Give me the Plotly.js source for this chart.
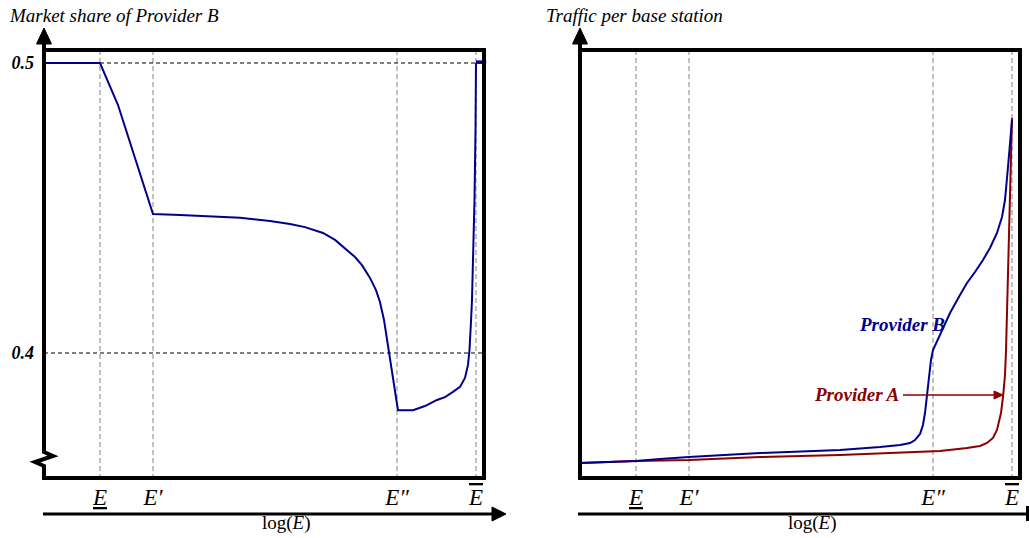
<!DOCTYPE html>
<html>
<head>
<meta charset="utf-8">
<script src="https://cdn.plot.ly/plotly-3.0.1.min.js"></script>
<style>html,body{margin:0;padding:0;background:#fff;}#chart{width:1029px;height:538px;}</style>
</head>
<body>
<div id="chart"></div>
<script>
// ---- Data (x = log(E), arbitrary units) ----
const markerX = [1.273, 2.477, 8.023, 9.818];
const markerLabels = ['<u>E</u>', 'E\u2032', 'E\u2033', '<span style="text-decoration:overline">E</span>'];

// Left panel: market share of Provider B
const shareX = [0, 1.273, 1.682, 2.477, 3.091, 3.773, 4.455, 5.136, 5.591, 5.932, 6.341, 6.614, 6.841, 7.068, 7.227, 7.409, 7.545, 7.636, 7.727, 7.795, 7.864, 7.932, 8.0, 8.045,
                8.386, 8.659, 8.932, 9.114, 9.295, 9.455, 9.568, 9.636, 9.67, 9.682, 9.705, 9.727, 9.75, 9.784, 9.807, 9.818];
const shareY = [0.5, 0.5, 0.4855, 0.4479, 0.4476, 0.4472, 0.4466, 0.4455, 0.4445, 0.4434, 0.4414, 0.4390, 0.4362, 0.4331, 0.4303, 0.4259, 0.4217, 0.4176, 0.4114, 0.4045, 0.3976, 0.3907, 0.3838, 0.3803,
                0.3803, 0.3817, 0.3838, 0.3848, 0.3866, 0.3883, 0.3914, 0.3959, 0.4010, 0.4034, 0.4110, 0.4183, 0.4297, 0.4528, 0.4769, 0.5];
const shareEndX = [9.818, 10.05];
const shareEndY = [0.5003, 0.5003];
const shareTicks = [0.4, 0.5];
const shareTickText = ['0.4', '0.5'];

// Right panel: traffic per base station
const trafAX = [0, 1.273, 2.477, 4.091, 5.909, 7.273, 8.182, 8.795, 9.091, 9.25, 9.386, 9.477, 9.523, 9.568, 9.614, 9.636, 9.659, 9.682, 9.727, 9.773, 9.818];
const trafAY = [3.5, 3.97, 4.21, 4.91, 5.37, 5.84, 6.31, 7.01, 7.48, 8.18, 9.35, 11.21, 13.08, 15.19, 18.93, 21.73, 24.07, 29.67, 46.03, 64.72, 84.11];
const trafBX = [0, 1.273, 1.818, 2.477, 4.091, 5.909, 6.818, 7.273, 7.5, 7.614, 7.727, 7.795, 7.841, 7.886, 7.932, 7.977, 8.023,
                8.182, 8.409, 8.636, 8.795, 8.977, 9.159, 9.318, 9.477, 9.591, 9.659, 9.727, 9.773, 9.818];
const trafBY = [3.5, 3.97, 4.44, 4.91, 5.84, 6.54, 7.24, 7.71, 8.18, 8.88, 10.28, 12.38, 15.19, 19.39, 24.07, 27.57, 29.91,
                33.41, 38.55, 42.76, 45.56, 48.13, 50.93, 53.74, 57.24, 60.98, 64.95, 72.66, 77.80, 83.64];

const BLUE = '#00008B', RED = '#8B0000';
const W = 1029, H = 538;
const PX = x => x / W, PY = y => 1 - y / H;
const FONT = 'Liberation Serif';

function path(pts, close) {
  return 'M ' + pts.map(p => PX(p[0]) + ',' + PY(p[1])).join(' L ') + (close ? ' Z' : '');
}

const traces = [
  {x: shareX, y: shareY, xaxis: 'x', yaxis: 'y', mode: 'lines', line: {color: BLUE, width: 2}, hoverinfo: 'skip'},
  {x: shareEndX, y: shareEndY, xaxis: 'x', yaxis: 'y', mode: 'lines', line: {color: BLUE, width: 3.5}, hoverinfo: 'skip'},
  {x: trafAX, y: trafAY, xaxis: 'x2', yaxis: 'y2', mode: 'lines', line: {color: RED, width: 2}, hoverinfo: 'skip'},
  {x: trafBX, y: trafBY, xaxis: 'x2', yaxis: 'y2', mode: 'lines', line: {color: BLUE, width: 2}, hoverinfo: 'skip'}
];

const shapes = [];
// vertical dashed guides
markerX.forEach(v => {
  ['x', 'x2'].forEach(xr => shapes.push({type: 'line', layer: 'below', xref: xr, yref: 'paper', x0: v, x1: v, y0: PY(50), y1: PY(478), line: {color: '#999', width: 1.2, dash: '5px,3px'}}));
});
// horizontal dashed at 0.5 and 0.4
shareTicks.forEach(v => shapes.push({type: 'line', layer: 'below', xref: 'x', yref: 'y', x0: 0, x1: 10, y0: v, y1: v, line: {color: '#000', width: 1.2, dash: '4px,3px'}}));

const blk = {color: '#000', width: 4};
// left frame (with axis break)
shapes.push({type: 'path', xref: 'paper', yref: 'paper', path: path([[44, 42], [44, 452], [53, 456], [35, 462], [44, 466], [44, 478], [484, 478], [484, 50], [44, 50]]), line: blk});
// right frame
shapes.push({type: 'path', xref: 'paper', yref: 'paper', path: path([[580, 42], [580, 478], [1020, 478], [1020, 50], [580, 50]]), line: blk});
// y-axis arrowheads
shapes.push({type: 'path', xref: 'paper', yref: 'paper', path: path([[44, 28], [36.5, 44], [51.5, 44]], true), fillcolor: '#000', line: {color: '#000', width: 1}});
shapes.push({type: 'path', xref: 'paper', yref: 'paper', path: path([[580, 28], [572.5, 44], [587.5, 44]], true), fillcolor: '#000', line: {color: '#000', width: 1}});
// bottom log(E) axes
shapes.push({type: 'line', xref: 'paper', yref: 'paper', x0: PX(43), x1: PX(494), y0: PY(514), y1: PY(514), line: {color: '#000', width: 3}});
shapes.push({type: 'path', xref: 'paper', yref: 'paper', path: path([[506, 514], [492, 507], [492, 521]], true), fillcolor: '#000', line: {color: '#000', width: 1}});
shapes.push({type: 'line', xref: 'paper', yref: 'paper', x0: PX(578), x1: PX(1028), y0: PY(514), y1: PY(514), line: {color: '#000', width: 3}});
shapes.push({type: 'line', xref: 'paper', yref: 'paper', x0: PX(1027.5), x1: PX(1027.5), y0: PY(506), y1: PY(521), line: {color: '#000', width: 3}});
// Provider A pointer arrow
shapes.push({type: 'line', xref: 'paper', yref: 'paper', x0: PX(903), x1: PX(996), y0: PY(395), y1: PY(395), line: {color: RED, width: 1.5}});
shapes.push({type: 'path', xref: 'paper', yref: 'paper', path: path([[1003, 395], [994, 391], [994, 399]], true), fillcolor: RED, line: {color: RED, width: 1}});

const annotations = [
  {xref: 'paper', yref: 'paper', x: PX(7), y: PY(16), xanchor: 'left', yanchor: 'middle', showarrow: false, text: '<i>Market share of Provider B</i>', font: {family: FONT, size: 19, color: '#000'}},
  {xref: 'paper', yref: 'paper', x: PX(544), y: PY(16), xanchor: 'left', yanchor: 'middle', showarrow: false, text: '<i>Traffic per base station</i>', font: {family: FONT, size: 19, color: '#000'}},
  {xref: 'paper', yref: 'paper', x: PX(286), y: PY(523), xanchor: 'center', yanchor: 'middle', showarrow: false, text: 'log(<i>E</i>)', font: {family: FONT, size: 19, color: '#000'}},
  {xref: 'paper', yref: 'paper', x: PX(812), y: PY(523), xanchor: 'center', yanchor: 'middle', showarrow: false, text: 'log(<i>E</i>)', font: {family: FONT, size: 19, color: '#000'}},
  {xref: 'x2', yref: 'y2', x: 7.318, y: 35.75, xanchor: 'center', yanchor: 'middle', showarrow: false, text: '<b><i>Provider B</i></b>', font: {family: FONT, size: 19, color: BLUE}},
  {xref: 'x2', yref: 'y2', x: 7.3, y: 19.6, xanchor: 'right', yanchor: 'middle', showarrow: false, text: '<b><i>Provider A</i></b>', font: {family: FONT, size: 19, color: RED}}
];

const xr = [-4 / 44, 446 / 44];
const yDom = [PY(481), PY(45)];
const tickFontX = {family: FONT, size: 23, style: 'italic', color: '#000'};
const layout = {
  width: W, height: H, margin: {l: 0, r: 0, t: 0, b: 0},
  paper_bgcolor: '#fff', plot_bgcolor: 'rgba(0,0,0,0)', showlegend: false,
  xaxis: {domain: [PX(40), PX(490)], range: xr, anchor: 'y', showgrid: false, zeroline: false, showline: false, ticks: '', tickvals: markerX, ticktext: markerLabels, tickfont: tickFontX, fixedrange: true},
  yaxis: {domain: yDom, range: [0.5 - (481 - 63) / 2900, 0.5 + (63 - 45) / 2900], anchor: 'x', showgrid: false, zeroline: false, showline: false, ticks: '', ticklabelstandoff: 5, tickvals: shareTicks, ticktext: shareTickText, tickfont: {family: FONT, size: 18, style: 'italic', weight: 'bold', color: '#000'}, fixedrange: true},
  xaxis2: {domain: [PX(576), PX(1026)], range: xr, anchor: 'y2', showgrid: false, zeroline: false, showline: false, ticks: '', tickvals: markerX, ticktext: markerLabels, tickfont: tickFontX, fixedrange: true},
  yaxis2: {domain: yDom, range: [(478 - 481) / 4.28, (478 - 45) / 4.28], anchor: 'x2', showgrid: false, zeroline: false, showline: false, showticklabels: false, fixedrange: true},
  shapes: shapes, annotations: annotations
};

Plotly.newPlot('chart', traces, layout, {displayModeBar: false, staticPlot: true});
</script>
</body>
</html>
